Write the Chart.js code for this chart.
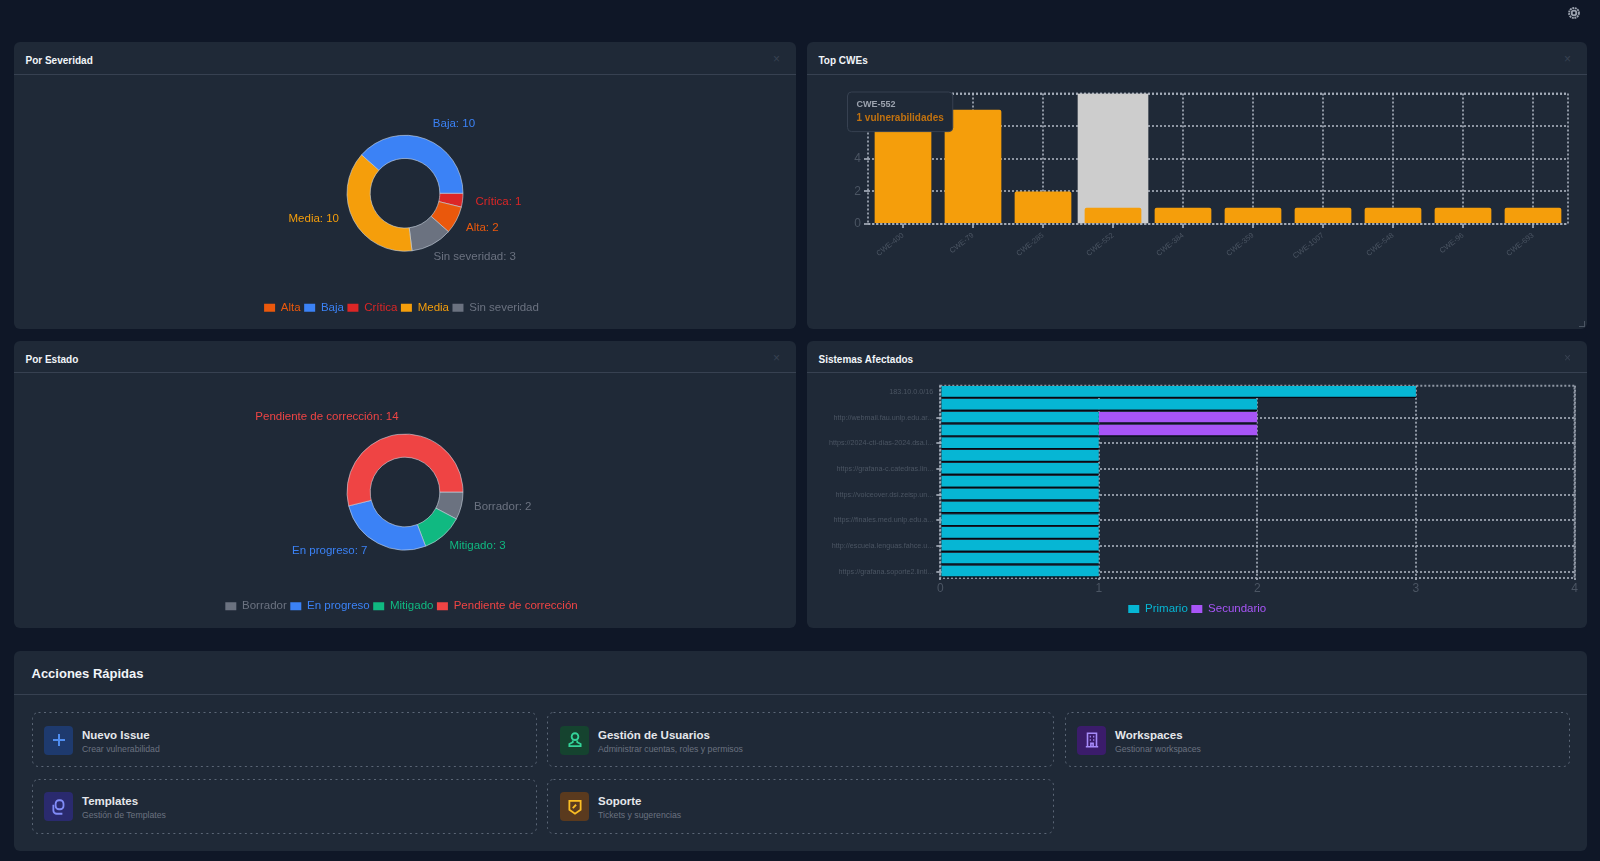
<!DOCTYPE html>
<html lang="es">
<head>
<meta charset="utf-8" />
<title>Dashboard</title>
<script src="https://cdn.jsdelivr.net/npm/chart.js@4/dist/chart.umd.min.js"></script>
<style>
	html, body { margin: 0; padding: 0; }
	body { width: 1600px; height: 861px; background: #0f1727; font-family: "Liberation Sans", Arial, sans-serif; position: relative; overflow: hidden; }
	.card { position: absolute; background: #1f2937; border-radius: 6px; }
	.card h3 { position: absolute; left: 11.5px; top: 13px; margin: 0; font-size: 10px; line-height: 12px; font-weight: bold; color: #f1f5f9; }
	.card .rule { position: absolute; left: 0; right: 0; height: 1px; background: #374151; }
	.card .close { position: absolute; right: 16px; top: 10px; font-size: 12px; line-height: 14px; color: #374151; }
	.box { position: absolute; }
	.grip { position: absolute; right: 2px; bottom: 2px; width: 5px; height: 5px; border-right: 1px solid #4b5563; border-bottom: 1px solid #4b5563; }
	.gear { position: absolute; left: 1567px; top: 6px; }
	.action { position: absolute; box-sizing: border-box; }
	.action > svg.edge { position: absolute; left: 0; top: 0; }
	.action .icon { position: absolute; left: 12px; top: 13.5px; width: 29px; height: 29px; border-radius: 4px; display: flex; align-items: center; justify-content: center; }
	.action b { position: absolute; left: 50px; top: 15.5px; font-size: 11.5px; line-height: 14px; color: #e5e7eb; white-space: nowrap; }
	.action span { position: absolute; left: 50px; top: 31.5px; font-size: 8.7px; line-height: 10px; color: #6b7280; white-space: nowrap; }
</style>
</head>
<body>

<svg class="gear" width="14" height="14" viewBox="0 0 24 24" fill="none" stroke="#9ca3af" stroke-width="3.2"><circle cx="12" cy="12" r="4"/><circle cx="12" cy="12" r="8.5" stroke-dasharray="3.3 1.2"/></svg>

<div class="card" style="left:14px;top:42px;width:782px;height:287px">
	<h3>Por Severidad</h3><div class="rule" style="top:32px"></div><div class="close">×</div>
	<div class="box" style="left:0;top:33px;width:782px;height:254px"><canvas id="severidadChart"></canvas></div>
</div>

<div class="card" style="left:807px;top:42px;width:780px;height:287px">
	<h3>Top CWEs</h3><div class="rule" style="top:32px"></div><div class="close">×</div>
	<div class="box" style="left:0;top:33px;width:780px;height:254px"><canvas id="cweChart"></canvas></div>
	<div class="grip"></div>
</div>

<div class="card" style="left:14px;top:341px;width:782px;height:287px">
	<h3>Por Estado</h3><div class="rule" style="top:31px"></div><div class="close">×</div>
	<div class="box" style="left:0;top:32px;width:782px;height:255px"><canvas id="estadoChart"></canvas></div>
</div>

<div class="card" style="left:807px;top:341px;width:780px;height:287px">
	<h3>Sistemas Afectados</h3><div class="rule" style="top:31px"></div><div class="close">×</div>
	<div class="box" style="left:0;top:32px;width:780px;height:255px"><canvas id="sistemasChart"></canvas></div>
</div>

<div class="card" style="left:14px;top:651px;width:1573px;height:200px">
	<div style="position:absolute;left:17.5px;top:14.5px;font-size:13px;line-height:16px;font-weight:bold;color:#f1f5f9">Acciones Rápidas</div>
	<div class="rule" style="top:43px"></div>

	<div class="action" style="left:18px;top:61px;width:505px;height:55px">
		<div class="icon" style="background:#1e3a6e"><svg width="16" height="16" viewBox="0 0 16 16" stroke="#4f8df0" stroke-width="2"><path d="M8 2v12M2 8h12"/></svg></div>
		<b>Nuevo Issue</b><span>Crear vulnerabilidad</span>
	</div>
	<div class="action" style="left:533px;top:61px;width:507px;height:55px">
		<div class="icon" style="left:13px;background:#15432f"><svg width="18" height="18" viewBox="0 0 16 16" fill="none" stroke="#34d399" stroke-width="1.6"><circle cx="8" cy="5" r="3"/><path d="M6 8.5v1.5l-3 1.5v2h10v-2l-3-1.5v-1.5"/></svg></div>
		<b style="left:51px">Gestión de Usuarios</b><span style="left:51px">Administrar cuentas, roles y permisos</span>
	</div>
	<div class="action" style="left:1051px;top:61px;width:505px;height:55px">
		<div class="icon" style="background:#3b1c6b"><svg width="18" height="18" viewBox="0 0 16 16" fill="none" stroke="#a78bfa" stroke-width="1.4"><path d="M4 14V2h8v12M2.5 14h11M6 5h1M9 5h1M6 8h1M9 8h1M7 14v-3h2v3"/></svg></div>
		<b>Workspaces</b><span>Gestionar workspaces</span>
	</div>
	<div class="action" style="left:18px;top:127.5px;width:505px;height:55px">
		<div class="icon" style="background:#2a2a6e"><svg width="18" height="18" viewBox="0 0 16 16" fill="none" stroke="#818cf8" stroke-width="1.6"><rect x="5" y="2" width="7" height="8" rx="3"/><path d="M3 6v5a3 3 0 0 0 3 3h5"/></svg></div>
		<b>Templates</b><span>Gestión de Templates</span>
	</div>
	<div class="action" style="left:533px;top:127.5px;width:507px;height:55px">
		<div class="icon" style="left:13px;background:#5a3a1e"><svg width="18" height="18" viewBox="0 0 16 16" fill="none" stroke="#fbbf24" stroke-width="1.6"><path d="M3 2.5h10v8l-5 3.5-5-3.5z"/><path d="M6 9l3-3" /></svg></div>
		<b style="left:51px">Soporte</b><span style="left:51px">Tickets y sugerencias</span>
	</div>
</div>

<script>
	const severidadLabels = ['Crítica', 'Alta', 'Sin severidad', 'Media', 'Baja'];
	const severidadValues = [1, 2, 3, 10, 10];
	const severidadColors = ['#dc2626', '#ea580c', '#6b7280', '#f59e0b', '#3b82f6'];

	const estadoLabels = ['Borrador', 'Mitigado', 'En progreso', 'Pendiente de corrección'];
	const estadoValues = [2, 3, 7, 14];
	const estadoColors = ['#6b7280', '#10b981', '#3b82f6', '#ef4444'];

	const cweLabels = ['CWE-400', 'CWE-79', 'CWE-285', 'CWE-552', 'CWE-384', 'CWE-359', 'CWE-1007', 'CWE-548', 'CWE-96', 'CWE-693'];
	const cweValues = [7, 7, 2, 1, 1, 1, 1, 1, 1, 1];
	const cweBand = [null, null, null, 8, null, null, null, null, null, null];

	const sistemasLabels = [
		'183.10.0.0/16', '', 'http://webmail.fau.unlp.edu.ar...', '', 'https://2024-cti-dias-2024.dsa.l...', '',
		'https://grafana-c.catedras.lin...', '', 'https://voiceover.dsi.zeisp.un...', '', 'https://finales.med.unlp.edu.a...', '',
		'http://escuela.lenguas.fahce.u...', '', 'https://grafana.soporte2.linti...'
	];
	const sistemasPrimario = [3, 2, 1, 1, 1, 1, 1, 1, 1, 1, 1, 1, 1, 1, 1];
	const sistemasSecundario = [0, 0, 1, 1, 0, 0, 0, 0, 0, 0, 0, 0, 0, 0, 0];

	const gridColor = 'rgba(170,178,190,0.8)';
	const gridWidth = 2;
	const axisText = '#4b5563';

	Chart.defaults.font.family = '"Liberation Sans", Arial, sans-serif';
	Chart.defaults.animation = false;

	// dotted outline on the quick action tiles
	document.querySelectorAll('.action').forEach(el => {
		const w = el.offsetWidth, h = el.offsetHeight;
		const ns = 'http://www.w3.org/2000/svg';
		const svg = document.createElementNS(ns, 'svg');
		svg.setAttribute('class', 'edge');
		svg.setAttribute('width', w);
		svg.setAttribute('height', h);
		const r = document.createElementNS(ns, 'rect');
		r.setAttribute('x', 0.5);
		r.setAttribute('y', 0.5);
		r.setAttribute('width', w - 1);
		r.setAttribute('height', h - 1);
		r.setAttribute('rx', 6);
		r.setAttribute('fill', 'none');
		r.setAttribute('stroke', '#5b6676');
		r.setAttribute('stroke-dasharray', '2 3.5');
		svg.appendChild(r);
		el.insertBefore(svg, el.firstChild);
	});

	// dashed frame round the plot area
	const plotFrame = {
		id: 'plotFrame',
		beforeDatasetsDraw(chart) {
			const a = chart.chartArea, c = chart.ctx;
			c.save();
			c.strokeStyle = gridColor;
			c.lineWidth = gridWidth;
			c.setLineDash([2, 2]);
			c.strokeRect(a.left, a.top, a.right - a.left, a.bottom - a.top);
			c.restore();
		}
	};

	// moves the legend sideways without moving the plot
	const legendShift = {
		id: 'legendShift',
		afterLayout(chart, args, opts) {
			chart.legend.left += opts.x;
			chart.legend.right += opts.x;
		}
	};

	// "Name: value" text beside each ring segment
	const sliceLabels = {
		id: 'sliceLabels',
		afterDatasetsDraw(chart, args, opts) {
			const c = chart.ctx;
			const ds = chart.data.datasets[0];
			c.save();
			c.font = '11.5px "Liberation Sans", Arial, sans-serif';
			c.textBaseline = 'middle';
			chart.getDatasetMeta(0).data.forEach((arc, i) => {
				const p = arc.getProps(['x', 'y', 'startAngle', 'endAngle', 'outerRadius']);
				const mid = (p.startAngle + p.endAngle) / 2;
				const nudge = opts.nudge[i] || [0, 0];
				const r = p.outerRadius + opts.gap;
				c.fillStyle = ds.backgroundColor[i];
				c.textAlign = Math.cos(mid) >= 0 ? 'left' : 'right';
				c.fillText(chart.data.labels[i] + ': ' + ds.data[i], p.x + Math.cos(mid) * r + nudge[0], p.y + Math.sin(mid) * r + nudge[1]);
			});
			c.restore();
		}
	};

	function legendText(chart) {
		const ds = chart.data.datasets[0];
		return chart.data.labels.map((text, i) => ({
			text, index: i, fillStyle: ds.backgroundColor[i], strokeStyle: ds.backgroundColor[i],
			fontColor: ds.backgroundColor[i], lineWidth: 0, hidden: false
		}));
	}

	function ringChart(id, labels, values, colors, nudge, padding) {
		return new Chart(document.getElementById(id), {
			type: 'doughnut',
			data: { labels, datasets: [{ data: values, backgroundColor: colors, borderColor: 'rgba(203,213,225,0.6)', borderWidth: 1 }] },
			plugins: [sliceLabels, legendShift],
			options: {
				responsive: true,
				maintainAspectRatio: false,
				rotation: 90,
				radius: 58,
				cutout: '60%',
				layout: { padding },
				events: [],
				plugins: {
					tooltip: { enabled: false },
					sliceLabels: { gap: 12, nudge },
					legendShift: { x: -3.5 },
					legend: {
						position: 'bottom',
						labels: {
							boxWidth: 11, boxHeight: 8, padding: 3.5, font: { size: 11.5 },
							generateLabels: legendText,
							sort: (a, b) => a.text.localeCompare(b.text, 'es')
						}
					}
				}
			}
		});
	}

	ringChart('severidadChart', severidadLabels, severidadValues, severidadColors,
		[[1, 0.5], [-1, 2], [-4, 1.5], [-4, -6.5], [3, -3.5]], { top: 13, bottom: 5.5 });
	ringChart('estadoChart', estadoLabels, estadoValues, estadoColors,
		[[1, -1.5], [-2, 1.5], [-5, -3.5], [2, -6]], { top: 14, bottom: 6 });

	// tooltip pinned at the top left corner of the plot
	Chart.Tooltip.positioners.pinned = () => ({ x: 44.5, y: 17 });

	const cweChart = new Chart(document.getElementById('cweChart'), {
		type: 'bar',
		data: {
			labels: cweLabels,
			datasets: [
				{ data: cweValues, backgroundColor: '#f59e0b', hoverBackgroundColor: '#f59e0b', borderRadius: 2, borderSkipped: 'bottom', barPercentage: 0.9, categoryPercentage: 0.9, order: 0 },
				{ data: cweBand, backgroundColor: '#cdcdcd', hoverBackgroundColor: '#cdcdcd', barPercentage: 1, categoryPercentage: 1, order: 1 }
			]
		},
		plugins: [plotFrame],
		options: {
			responsive: true,
			maintainAspectRatio: false,
			grouped: false,
			events: [],
			layout: { padding: { top: 18.5, right: 19 } },
			scales: {
				x: {
					grid: { offset: false, color: gridColor, lineWidth: gridWidth, tickLength: 4 },
					border: { display: false, dash: [2, 2] },
					ticks: { color: axisText, font: { size: 7.5 }, minRotation: 38, maxRotation: 38, autoSkip: false },
					afterFit: s => { s.height = 105; }
				},
				y: {
					min: 0, max: 8,
					grid: { color: gridColor, lineWidth: gridWidth, tickLength: 4 },
					border: { display: false, dash: [2, 2] },
					ticks: { stepSize: 2, color: axisText, font: { size: 12 }, callback: v => v === 8 ? '' : v },
					afterFit: s => { s.width = 61; }
				}
			},
			plugins: {
				legend: { display: false },
				tooltip: {
					position: 'pinned', xAlign: 'left', yAlign: 'top',
					caretSize: 0, caretPadding: 0, cornerRadius: 4,
					backgroundColor: '#1f2937', borderColor: '#374151', borderWidth: 1,
					padding: { left: 9, right: 9, top: 7.4, bottom: 7.4 }, displayColors: false,
					titleColor: '#9ca3af', titleFont: { size: 9, weight: 'bold' }, titleMarginBottom: 2,
					bodyColor: '#c2720f', bodyFont: { size: 10, weight: 'bold' },
					callbacks: { label: item => item.raw + ' vulnerabilidades' }
				}
			}
		}
	});
	cweChart.tooltip.setActiveElements([{ datasetIndex: 0, index: 3 }], { x: 0, y: 0 });
	cweChart.update();

	new Chart(document.getElementById('sistemasChart'), {
		type: 'bar',
		data: {
			labels: sistemasLabels,
			datasets: [
				{ label: 'Primario', data: sistemasPrimario, backgroundColor: '#06b6d4', borderColor: '#050a14', borderWidth: { bottom: 1.5 }, borderSkipped: false },
				{ label: 'Secundario', data: sistemasSecundario, backgroundColor: '#a855f7', borderColor: '#050a14', borderWidth: { bottom: 1.5 }, borderSkipped: false }
			]
		},
		plugins: [plotFrame, legendShift],
		options: {
			indexAxis: 'y',
			responsive: true,
			maintainAspectRatio: false,
			events: [],
			categoryPercentage: 1,
			barPercentage: 0.95,
			layout: { padding: { top: 12.7, right: 12.5, bottom: 3.3 } },
			scales: {
				x: {
					stacked: true, min: 0, max: 4,
					grid: { color: gridColor, lineWidth: gridWidth, tickLength: 2 },
					border: { display: false, dash: [2, 2] },
					ticks: { stepSize: 1, color: axisText, font: { size: 12 }, padding: 1 },
					afterFit: s => { s.height = 21.7; }
				},
				y: {
					stacked: true,
					grid: { offset: false, color: ctx => ctx.index === 0 ? 'transparent' : gridColor, lineWidth: gridWidth, tickLength: 4 },
					border: { display: false, dash: [2, 2] },
					ticks: { color: axisText, font: { size: 7.2 }, autoSkip: true, maxTicksLimit: 8 },
					afterFit: s => { s.width = 133.3; }
				}
			},
			plugins: {
				tooltip: { enabled: false },
				legendShift: { x: 6.5 },
				legend: {
					position: 'bottom',
					labels: {
						boxWidth: 11, boxHeight: 8, padding: 3.5, font: { size: 11.5 },
						generateLabels: chart => chart.data.datasets.map((d, i) => ({
							text: d.label, datasetIndex: i, fillStyle: d.backgroundColor, strokeStyle: d.backgroundColor,
							fontColor: d.backgroundColor, lineWidth: 0, hidden: false
						}))
					}
				}
			}
		}
	});
</script>
</body>
</html>
